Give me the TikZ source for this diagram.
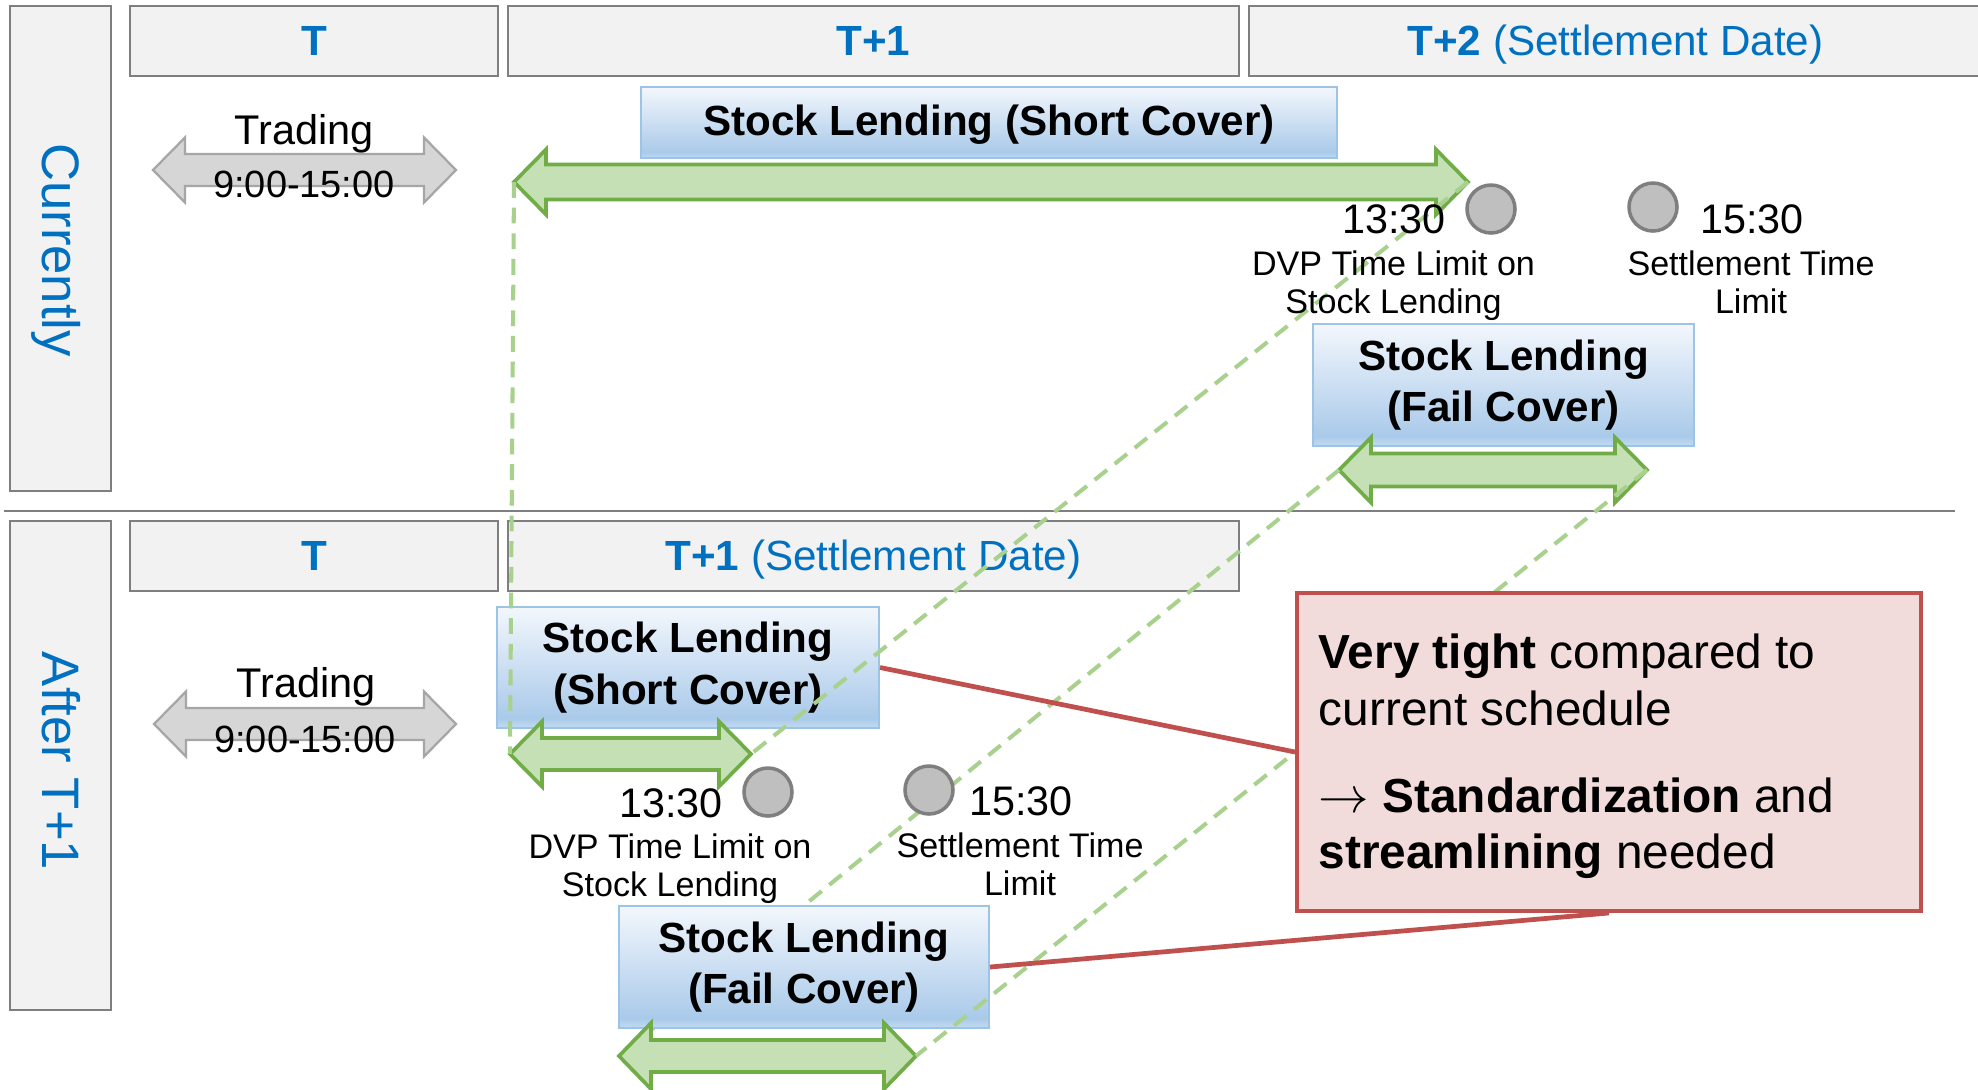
\documentclass[tikz,border=0pt]{standalone}
\usepackage{fontspec}
\setmainfont{Liberation Sans}
\definecolor{hdrfill}{HTML}{F2F2F2}
\definecolor{hdrline}{HTML}{7F7F7F}
\definecolor{tblue}{HTML}{0070C0}
\definecolor{gfill}{HTML}{C5E0B4}
\definecolor{gline}{HTML}{70AD47}
\definecolor{gdash}{HTML}{A9D18E}
\definecolor{grayfill}{HTML}{D6D6D6}
\definecolor{grayline}{HTML}{A6A6A6}
\definecolor{dotfill}{HTML}{BFBFBF}
\definecolor{dotline}{HTML}{7F7F7F}
\definecolor{rfill}{HTML}{F2DCDB}
\definecolor{rline}{HTML}{C0504D}
\definecolor{bline}{HTML}{9DC3E6}
\definecolor{btop}{HTML}{F3F7FC}
\definecolor{bmid}{HTML}{AACAEA}
\definecolor{bbot}{HTML}{C3DBF1}
\pgfdeclareverticalshading{bluegrad}{100bp}{color(0bp)=(bbot); color(25bp)=(bbot); color(29bp)=(bmid); color(75bp)=(btop); color(100bp)=(btop)}
\newcommand\fsHdr{\fontsize{12pt}{14.5pt}\selectfont}
\newcommand\fsBox{\fontsize{12pt}{14.6pt}\selectfont\bfseries}
\newcommand\fsTrad{\fontsize{11.8pt}{14pt}\selectfont}
\newcommand\fsTimes{\fontsize{10.8pt}{13pt}\selectfont}
\newcommand\fsClock{\fontsize{11.75pt}{14pt}\selectfont}
\newcommand\fsLab{\fontsize{9.7pt}{10.8pt}\selectfont}
\newcommand\fsRed{\fontsize{13.6pt}{16pt}\selectfont}
\newcommand\fsSide{\fontsize{15pt}{18pt}\selectfont}
\tikzset{
  hdr/.style={draw=hdrline, fill=hdrfill, line width=0.6pt, inner sep=0pt, text=tblue, font=\fsHdr, text height=8.6pt, text depth=0.6pt, minimum height=7mm},
  lblbox/.style={draw=hdrline, fill=hdrfill, line width=0.6pt, inner sep=0pt},
  side/.style={rotate=-90, anchor=base, inner sep=0pt, text=tblue, font=\fsSide},
  bluebox/.style={draw=bline, line width=0.6pt, shade, shading=bluegrad, inner sep=0pt, align=center, font=\fsBox},
  grarrow/.style={draw=gline, fill=gfill, line width=1.05pt},
  gyarrow/.style={draw=grayline, fill=grayfill, line width=0.65pt},
  gdashed/.style={draw=gdash, line width=1.15pt, dash pattern=on 4.5pt off 2.8pt},
  dot/.style={circle, draw=dotline, fill=dotfill, line width=1pt, minimum size=4.8mm, inner sep=0pt},
  redbox/.style={draw=rline, fill=rfill, line width=1.1pt, inner sep=0pt},
  redline/.style={draw=rline, line width=1.35pt},
  sepline/.style={draw=hdrline, line width=0.8pt},
  tlab/.style={anchor=base, inner sep=0pt},
  redtxt/.style={anchor=base west, inner sep=0pt, font=\fsRed},
}
% double arrow: #1 style, #2 name, #3 xL, #4 xR, #5 y, #6 shaft half, #7 head half
\newcommand\dblarr[7]{%
  \coordinate (#2L) at (#3,#5);
  \coordinate (#2R) at (#4,#5);
  \draw[#1] (#2L) -- ({#3+32},{#5-#7}) -- ({#3+32},{#5-#6}) -- ({#4-32},{#5-#6}) -- ({#4-32},{#5-#7}) -- (#2R) -- ({#4-32},{#5+#7}) -- ({#4-32},{#5+#6}) -- ({#3+32},{#5+#6}) -- ({#3+32},{#5+#7}) -- cycle;
}
\begin{document}
\begin{tikzpicture}[x=0.1mm,y=-0.1mm]
\useasboundingbox (0,0) rectangle (1978,1089);
\fill[white] (0,0) rectangle (1978,1089);

% side labels
\node[lblbox, minimum width=10.1mm, minimum height=48.5mm] (curbox) at (60.5,248.5) {};
\node[lblbox, minimum width=10.1mm, minimum height=48.9mm] (aftbox) at (60.5,765.5) {};
\node[side] (curtxt) at (43,250) {Currently};
\node[side] (afttxt) at (42,761) {After T+1};

% headers
\node[hdr, minimum width=36.8mm] (hT1) at (314,41) {\bfseries T};
\node[hdr, minimum width=73.1mm] (hT2) at (873.5,41) {\bfseries T+1};
\node[hdr, minimum width=73.3mm] (hT3) at (1615.5,41) {\textbf{T+2} (Settlement Date)};
\node[hdr, minimum width=36.8mm] (lT1) at (314,556) {\bfseries T};
\node[hdr, minimum width=73.1mm] (lT2) at (873.5,556) {\textbf{T+1} (Settlement Date)};

% separator
\coordinate (sepL) at (4,511);
\coordinate (sepR) at (1955,511);
\draw[sepline] (sepL) -- (sepR);

% trading arrows
\dblarr{gyarrow}{gy1}{153}{456}{170}{16}{32.5}
\dblarr{gyarrow}{gy2}{154}{456}{724}{16}{32.5}
\node[tlab, font=\fsTrad] (tr1) at (304,144) {Trading};
\node[tlab, font=\fsTimes] (tm1) at (304,197) {9:00-15:00};
\node[tlab, font=\fsTrad] (tr2) at (306,697) {Trading};
\node[tlab, font=\fsTimes] (tm2) at (305,752) {9:00-15:00};

% current: short cover
\node[bluebox, minimum width=69.6mm, minimum height=7.1mm, text height=8.8pt, text depth=1.6pt] (sc1) at (989,122.5) {Stock Lending (Short Cover)};
\dblarr{grarrow}{ga1}{514}{1468}{182}{17.5}{32.5}
% current: fail cover
\node[bluebox, minimum width=38.1mm, minimum height=12.2mm] (fc1) at (1503.5,385) {Stock Lending\\(Fail Cover)};
\dblarr{grarrow}{ga2}{1339}{1647}{470}{16.5}{32.5}
% after: short cover
\node[bluebox, minimum width=38.2mm, minimum height=12.1mm] (sc2) at (688,667.5) {Stock Lending\\(Short Cover)};
\dblarr{grarrow}{ga3}{510}{751}{754}{16}{32.5}
% dashed behind the lower fail cover box
\coordinate (ga4Lpre) at (619,1056);
\draw[gdashed] (ga2L) -- (ga4Lpre);
% after: fail cover
\node[bluebox, minimum width=37mm, minimum height=12.2mm] (fc2) at (804,967) {Stock Lending\\(Fail Cover)};
\dblarr{grarrow}{ga4}{619}{916}{1056}{16}{33}

% dashed guide lines
\draw[gdashed] (ga1L) -- (ga3L);
\draw[gdashed] (ga1R) -- (ga3R);
\draw[gdashed] (ga2R) -- (ga4R);

% red callout
\node[redbox, minimum width=62.4mm, minimum height=31.8mm] (red) at (1609,752) {};
\draw[redline] (sc2.east) -- (red.west);
\draw[redline] (fc2.east) -- (red.south);
\node[redtxt] (r1) at (1318,668) {\textbf{Very tight} compared to};
\node[redtxt] (r2) at (1318,725) {current schedule};
\node[redtxt] (r3) at (1318,812) {$\rightarrow$ \textbf{Standardization} and};
\node[redtxt] (r4) at (1318,868) {\textbf{streamlining} needed};

% time markers (current)
\node[dot] (c1) at (1491,209) {};
\node[dot] (c2) at (1653,207) {};
\node[tlab, font=\fsClock] (k1) at (1394,233) {13:30};
\node[tlab, font=\fsLab] (k1a) at (1393.5,275) {DVP Time Limit on};
\node[tlab, font=\fsLab] (k1b) at (1393.5,313) {Stock Lending};
\node[tlab, font=\fsClock] (k2) at (1752,233) {15:30};
\node[tlab, font=\fsLab] (k2a) at (1751,275) {Settlement Time};
\node[tlab, font=\fsLab] (k2b) at (1751,313) {Limit};

% time markers (after T+1)
\node[dot] (c3) at (768,792) {};
\node[dot] (c4) at (929,790) {};
\node[tlab, font=\fsClock] (k3) at (671,817) {13:30};
\node[tlab, font=\fsLab] (k3a) at (670,858) {DVP Time Limit on};
\node[tlab, font=\fsLab] (k3b) at (670,896) {Stock Lending};
\node[tlab, font=\fsClock] (k4) at (1021,815) {15:30};
\node[tlab, font=\fsLab] (k4a) at (1020,857) {Settlement Time};
\node[tlab, font=\fsLab] (k4b) at (1020,895) {Limit};
\end{tikzpicture}
\end{document}
